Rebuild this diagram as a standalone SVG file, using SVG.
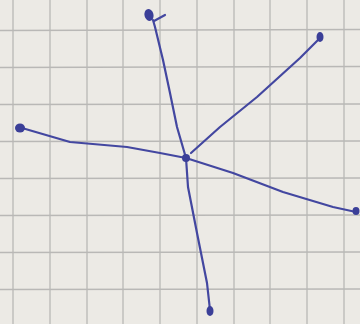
<svg xmlns="http://www.w3.org/2000/svg" width="360" height="324" viewBox="0 0 360 324">
<style>
.grid{stroke:#b9b8b6;stroke-width:1.3;fill:none}
.edge{stroke:#4347a0;stroke-width:2.2;fill:none;stroke-linecap:round;stroke-linejoin:round}
.dot{fill:#3b3f98}
</style>
<rect width="360" height="324" fill="#eceae5"/>
<g id="grid" class="grid">
<path d="M13 0V324M50 0V324M87 0V324M123 0V324M160 0V324M197 0V324M234 0V324M270 0V324M307 0V324M344 0V324"/>
<path d="M0 30.5L360 29.5M0 67.5L360 66.5M0 104.5L360 104M0 141.5L360 141M0 178.5L360 178M0 215.5L360 215M0 252.5L360 252M0 289.5L360 289"/>
</g>
<g id="connectors">
<path class="edge" d="M153 20 L155 27 L163 60 L170 93 L177 127 L186 158"/>
<path class="edge" d="M320 38 L300 58 L257 97 L220 127 L191 153"/>
<path class="edge" d="M22 128 L70 142 L127 147 L160 153 L186 158"/>
<path class="edge" d="M186 158 L233 173 L283 192 L333 207 L356 212"/>
<path class="edge" d="M186 158 L188 187 L197 233 L207 283 L210 310"/>
<path class="edge" d="M154 21 L165 15" stroke-width="1.5"/>
</g>
<g id="n-center"><ellipse class="dot" cx="186" cy="158" rx="4" ry="4"/></g>
<g id="n-top"><ellipse class="dot" cx="149" cy="15" rx="4.5" ry="6" transform="rotate(-15 149 15)"/></g>
<g id="n-topright"><ellipse class="dot" cx="320" cy="37" rx="3.5" ry="5"/></g>
<g id="n-left"><ellipse class="dot" cx="20" cy="128" rx="5" ry="4.5"/></g>
<g id="n-right"><ellipse class="dot" cx="356" cy="211" rx="3.5" ry="4"/></g>
<g id="n-bottom"><ellipse class="dot" cx="210" cy="311" rx="3.5" ry="5"/></g>
</svg>
